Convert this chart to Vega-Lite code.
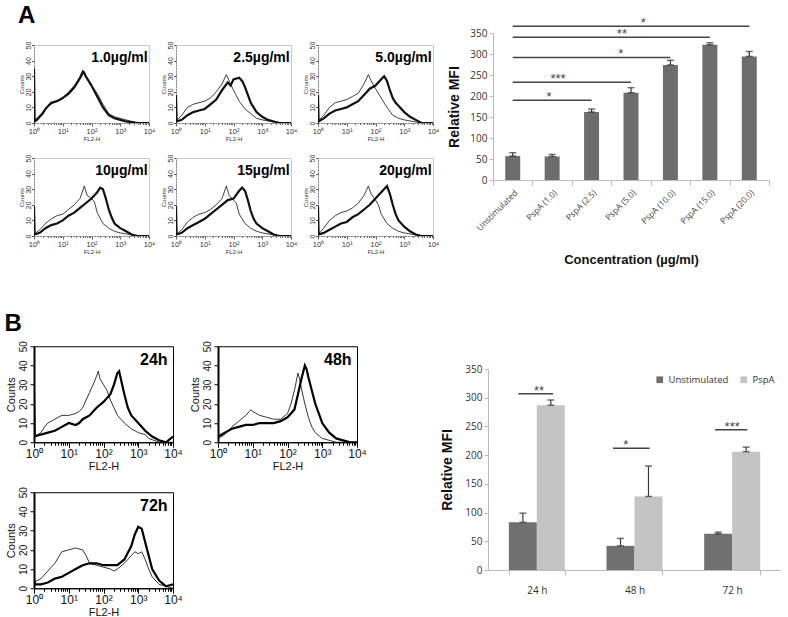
{
"$schema": "https://vega.github.io/schema/vega-lite/v6.json",
"background": "white",
"padding": {"left": 4, "top": 4, "right": 0, "bottom": 0},
"config": {"view": {"stroke": null}, "font": "Liberation Sans", "axis": {"labelOverlap": false}, "title": {"fontSize": 24, "fontWeight": "bold", "anchor": "start", "frame": "bounds", "color": "#000"}, "headerFacet": {"labels": false, "title": null, "labelFontSize": 0.1, "labelPadding": 0}},
"datasets": {
"histA": [
{"p":"1.0µg/ml","s":"thick","x":1,"y":35},{"p":"1.0µg/ml","s":"thick","x":1.05,"y":1},{"p":"1.0µg/ml","s":"thick","x":1.26,"y":2},{"p":"1.0µg/ml","s":"thick","x":1.58,"y":4},{"p":"1.0µg/ml","s":"thick","x":2,"y":6},{"p":"1.0µg/ml","s":"thick","x":2.51,"y":9},{"p":"1.0µg/ml","s":"thick","x":3.16,"y":11},{"p":"1.0µg/ml","s":"thick","x":3.98,"y":13},{"p":"1.0µg/ml","s":"thick","x":6.31,"y":14},{"p":"1.0µg/ml","s":"thick","x":10,"y":16},{"p":"1.0µg/ml","s":"thick","x":15.8,"y":19},{"p":"1.0µg/ml","s":"thick","x":25.1,"y":23},{"p":"1.0µg/ml","s":"thick","x":39.8,"y":29},{"p":"1.0µg/ml","s":"thick","x":50.1,"y":33},{"p":"1.0µg/ml","s":"thick","x":56.2,"y":32},{"p":"1.0µg/ml","s":"thick","x":63.1,"y":30},{"p":"1.0µg/ml","s":"thick","x":79.4,"y":27},{"p":"1.0µg/ml","s":"thick","x":100,"y":24},{"p":"1.0µg/ml","s":"thick","x":158,"y":17},{"p":"1.0µg/ml","s":"thick","x":251,"y":10},{"p":"1.0µg/ml","s":"thick","x":398,"y":5},{"p":"1.0µg/ml","s":"thick","x":631,"y":3},{"p":"1.0µg/ml","s":"thick","x":1000,"y":2},{"p":"1.0µg/ml","s":"thick","x":1585,"y":1},{"p":"1.0µg/ml","s":"thick","x":3981,"y":0},{"p":"1.0µg/ml","s":"thick","x":10000,"y":0},
{"p":"1.0µg/ml","s":"thin","x":1,"y":2},{"p":"1.0µg/ml","s":"thin","x":1.26,"y":3},{"p":"1.0µg/ml","s":"thin","x":1.58,"y":5},{"p":"1.0µg/ml","s":"thin","x":2,"y":7},{"p":"1.0µg/ml","s":"thin","x":2.51,"y":9},{"p":"1.0µg/ml","s":"thin","x":3.16,"y":11},{"p":"1.0µg/ml","s":"thin","x":3.98,"y":12},{"p":"1.0µg/ml","s":"thin","x":6.31,"y":14},{"p":"1.0µg/ml","s":"thin","x":10,"y":16},{"p":"1.0µg/ml","s":"thin","x":15.8,"y":18},{"p":"1.0µg/ml","s":"thin","x":25.1,"y":22},{"p":"1.0µg/ml","s":"thin","x":39.8,"y":28},{"p":"1.0µg/ml","s":"thin","x":50.1,"y":31},{"p":"1.0µg/ml","s":"thin","x":56.2,"y":33},{"p":"1.0µg/ml","s":"thin","x":63.1,"y":29},{"p":"1.0µg/ml","s":"thin","x":79.4,"y":27},{"p":"1.0µg/ml","s":"thin","x":100,"y":24},{"p":"1.0µg/ml","s":"thin","x":158,"y":19},{"p":"1.0µg/ml","s":"thin","x":251,"y":12},{"p":"1.0µg/ml","s":"thin","x":398,"y":6},{"p":"1.0µg/ml","s":"thin","x":631,"y":4},{"p":"1.0µg/ml","s":"thin","x":1000,"y":3},{"p":"1.0µg/ml","s":"thin","x":1585,"y":2},{"p":"1.0µg/ml","s":"thin","x":2512,"y":1},{"p":"1.0µg/ml","s":"thin","x":3981,"y":0},{"p":"1.0µg/ml","s":"thin","x":10000,"y":0},
{"p":"2.5µg/ml","s":"thin","x":1,"y":1},{"p":"2.5µg/ml","s":"thin","x":1.58,"y":5},{"p":"2.5µg/ml","s":"thin","x":2.51,"y":10},{"p":"2.5µg/ml","s":"thin","x":3.98,"y":12},{"p":"2.5µg/ml","s":"thin","x":6.31,"y":13},{"p":"2.5µg/ml","s":"thin","x":10,"y":14},{"p":"2.5µg/ml","s":"thin","x":15.8,"y":16},{"p":"2.5µg/ml","s":"thin","x":25.1,"y":20},{"p":"2.5µg/ml","s":"thin","x":39.8,"y":25},{"p":"2.5µg/ml","s":"thin","x":56.2,"y":31},{"p":"2.5µg/ml","s":"thin","x":70.8,"y":27},{"p":"2.5µg/ml","s":"thin","x":100,"y":21},{"p":"2.5µg/ml","s":"thin","x":158,"y":14},{"p":"2.5µg/ml","s":"thin","x":251,"y":9},{"p":"2.5µg/ml","s":"thin","x":398,"y":6},{"p":"2.5µg/ml","s":"thin","x":631,"y":3},{"p":"2.5µg/ml","s":"thin","x":1000,"y":2},{"p":"2.5µg/ml","s":"thin","x":1995,"y":1},{"p":"2.5µg/ml","s":"thin","x":3981,"y":0},{"p":"2.5µg/ml","s":"thin","x":10000,"y":0},
{"p":"2.5µg/ml","s":"thick","x":1,"y":18},{"p":"2.5µg/ml","s":"thick","x":1.05,"y":1},{"p":"2.5µg/ml","s":"thick","x":1.58,"y":2},{"p":"2.5µg/ml","s":"thick","x":2.51,"y":5},{"p":"2.5µg/ml","s":"thick","x":3.98,"y":7},{"p":"2.5µg/ml","s":"thick","x":6.31,"y":8},{"p":"2.5µg/ml","s":"thick","x":10,"y":9},{"p":"2.5µg/ml","s":"thick","x":15.8,"y":12},{"p":"2.5µg/ml","s":"thick","x":25.1,"y":15},{"p":"2.5µg/ml","s":"thick","x":39.8,"y":21},{"p":"2.5µg/ml","s":"thick","x":63.1,"y":26},{"p":"2.5µg/ml","s":"thick","x":79.4,"y":24},{"p":"2.5µg/ml","s":"thick","x":100,"y":28},{"p":"2.5µg/ml","s":"thick","x":158,"y":29},{"p":"2.5µg/ml","s":"thick","x":200,"y":27},{"p":"2.5µg/ml","s":"thick","x":251,"y":23},{"p":"2.5µg/ml","s":"thick","x":316,"y":18},{"p":"2.5µg/ml","s":"thick","x":398,"y":13},{"p":"2.5µg/ml","s":"thick","x":501,"y":10},{"p":"2.5µg/ml","s":"thick","x":631,"y":7},{"p":"2.5µg/ml","s":"thick","x":1000,"y":4},{"p":"2.5µg/ml","s":"thick","x":1585,"y":2},{"p":"2.5µg/ml","s":"thick","x":2512,"y":1},{"p":"2.5µg/ml","s":"thick","x":3981,"y":0},{"p":"2.5µg/ml","s":"thick","x":10000,"y":0},
{"p":"5.0µg/ml","s":"thin","x":1,"y":1},{"p":"5.0µg/ml","s":"thin","x":1.58,"y":5},{"p":"5.0µg/ml","s":"thin","x":2.51,"y":10},{"p":"5.0µg/ml","s":"thin","x":3.98,"y":13},{"p":"5.0µg/ml","s":"thin","x":6.31,"y":14},{"p":"5.0µg/ml","s":"thin","x":10,"y":15},{"p":"5.0µg/ml","s":"thin","x":15.8,"y":17},{"p":"5.0µg/ml","s":"thin","x":25.1,"y":19},{"p":"5.0µg/ml","s":"thin","x":39.8,"y":25},{"p":"5.0µg/ml","s":"thin","x":56.2,"y":31},{"p":"5.0µg/ml","s":"thin","x":70.8,"y":27},{"p":"5.0µg/ml","s":"thin","x":100,"y":22},{"p":"5.0µg/ml","s":"thin","x":158,"y":16},{"p":"5.0µg/ml","s":"thin","x":251,"y":10},{"p":"5.0µg/ml","s":"thin","x":398,"y":5},{"p":"5.0µg/ml","s":"thin","x":631,"y":3},{"p":"5.0µg/ml","s":"thin","x":1000,"y":2},{"p":"5.0µg/ml","s":"thin","x":1995,"y":1},{"p":"5.0µg/ml","s":"thin","x":3981,"y":0},{"p":"5.0µg/ml","s":"thin","x":10000,"y":0},
{"p":"5.0µg/ml","s":"thick","x":1,"y":18},{"p":"5.0µg/ml","s":"thick","x":1.05,"y":1},{"p":"5.0µg/ml","s":"thick","x":1.58,"y":3},{"p":"5.0µg/ml","s":"thick","x":2.51,"y":6},{"p":"5.0µg/ml","s":"thick","x":3.98,"y":8},{"p":"5.0µg/ml","s":"thick","x":6.31,"y":9},{"p":"5.0µg/ml","s":"thick","x":10,"y":10},{"p":"5.0µg/ml","s":"thick","x":15.8,"y":12},{"p":"5.0µg/ml","s":"thick","x":25.1,"y":14},{"p":"5.0µg/ml","s":"thick","x":39.8,"y":18},{"p":"5.0µg/ml","s":"thick","x":63.1,"y":22},{"p":"5.0µg/ml","s":"thick","x":100,"y":24},{"p":"5.0µg/ml","s":"thick","x":158,"y":28},{"p":"5.0µg/ml","s":"thick","x":200,"y":30},{"p":"5.0µg/ml","s":"thick","x":251,"y":27},{"p":"5.0µg/ml","s":"thick","x":316,"y":21},{"p":"5.0µg/ml","s":"thick","x":398,"y":16},{"p":"5.0µg/ml","s":"thick","x":501,"y":13},{"p":"5.0µg/ml","s":"thick","x":631,"y":11},{"p":"5.0µg/ml","s":"thick","x":1000,"y":7},{"p":"5.0µg/ml","s":"thick","x":1585,"y":4},{"p":"5.0µg/ml","s":"thick","x":2512,"y":2},{"p":"5.0µg/ml","s":"thick","x":3981,"y":0},{"p":"5.0µg/ml","s":"thick","x":10000,"y":0},
{"p":"10µg/ml","s":"thin","x":1,"y":1},{"p":"10µg/ml","s":"thin","x":1.58,"y":4},{"p":"10µg/ml","s":"thin","x":2.51,"y":8},{"p":"10µg/ml","s":"thin","x":3.98,"y":11},{"p":"10µg/ml","s":"thin","x":6.31,"y":13},{"p":"10µg/ml","s":"thin","x":10,"y":14},{"p":"10µg/ml","s":"thin","x":15.8,"y":17},{"p":"10µg/ml","s":"thin","x":25.1,"y":20},{"p":"10µg/ml","s":"thin","x":39.8,"y":24},{"p":"10µg/ml","s":"thin","x":56.2,"y":32},{"p":"10µg/ml","s":"thin","x":70.8,"y":26},{"p":"10µg/ml","s":"thin","x":100,"y":24},{"p":"10µg/ml","s":"thin","x":126,"y":22},{"p":"10µg/ml","s":"thin","x":158,"y":15},{"p":"10µg/ml","s":"thin","x":251,"y":8},{"p":"10µg/ml","s":"thin","x":398,"y":5},{"p":"10µg/ml","s":"thin","x":631,"y":3},{"p":"10µg/ml","s":"thin","x":1000,"y":2},{"p":"10µg/ml","s":"thin","x":1995,"y":1},{"p":"10µg/ml","s":"thin","x":3981,"y":0},{"p":"10µg/ml","s":"thin","x":10000,"y":0},
{"p":"10µg/ml","s":"thick","x":1,"y":19},{"p":"10µg/ml","s":"thick","x":1.05,"y":1},{"p":"10µg/ml","s":"thick","x":1.58,"y":2},{"p":"10µg/ml","s":"thick","x":2.51,"y":5},{"p":"10µg/ml","s":"thick","x":3.98,"y":7},{"p":"10µg/ml","s":"thick","x":6.31,"y":8},{"p":"10µg/ml","s":"thick","x":10,"y":10},{"p":"10µg/ml","s":"thick","x":15.8,"y":13},{"p":"10µg/ml","s":"thick","x":25.1,"y":15},{"p":"10µg/ml","s":"thick","x":39.8,"y":18},{"p":"10µg/ml","s":"thick","x":63.1,"y":21},{"p":"10µg/ml","s":"thick","x":100,"y":24},{"p":"10µg/ml","s":"thick","x":158,"y":28},{"p":"10µg/ml","s":"thick","x":200,"y":31},{"p":"10µg/ml","s":"thick","x":251,"y":30},{"p":"10µg/ml","s":"thick","x":316,"y":24},{"p":"10µg/ml","s":"thick","x":398,"y":17},{"p":"10µg/ml","s":"thick","x":501,"y":12},{"p":"10µg/ml","s":"thick","x":631,"y":8},{"p":"10µg/ml","s":"thick","x":1000,"y":5},{"p":"10µg/ml","s":"thick","x":1585,"y":3},{"p":"10µg/ml","s":"thick","x":2512,"y":1},{"p":"10µg/ml","s":"thick","x":3981,"y":0},{"p":"10µg/ml","s":"thick","x":10000,"y":0},
{"p":"15µg/ml","s":"thin","x":1,"y":1},{"p":"15µg/ml","s":"thin","x":1.58,"y":4},{"p":"15µg/ml","s":"thin","x":2.51,"y":9},{"p":"15µg/ml","s":"thin","x":3.98,"y":12},{"p":"15µg/ml","s":"thin","x":6.31,"y":14},{"p":"15µg/ml","s":"thin","x":10,"y":15},{"p":"15µg/ml","s":"thin","x":15.8,"y":17},{"p":"15µg/ml","s":"thin","x":25.1,"y":20},{"p":"15µg/ml","s":"thin","x":39.8,"y":24},{"p":"15µg/ml","s":"thin","x":56.2,"y":32},{"p":"15µg/ml","s":"thin","x":70.8,"y":26},{"p":"15µg/ml","s":"thin","x":100,"y":23},{"p":"15µg/ml","s":"thin","x":126,"y":21},{"p":"15µg/ml","s":"thin","x":158,"y":14},{"p":"15µg/ml","s":"thin","x":251,"y":8},{"p":"15µg/ml","s":"thin","x":398,"y":5},{"p":"15µg/ml","s":"thin","x":631,"y":3},{"p":"15µg/ml","s":"thin","x":1000,"y":2},{"p":"15µg/ml","s":"thin","x":1995,"y":1},{"p":"15µg/ml","s":"thin","x":3981,"y":0},{"p":"15µg/ml","s":"thin","x":10000,"y":0},
{"p":"15µg/ml","s":"thick","x":1,"y":19},{"p":"15µg/ml","s":"thick","x":1.05,"y":1},{"p":"15µg/ml","s":"thick","x":1.58,"y":2},{"p":"15µg/ml","s":"thick","x":2.51,"y":5},{"p":"15µg/ml","s":"thick","x":3.98,"y":7},{"p":"15µg/ml","s":"thick","x":6.31,"y":9},{"p":"15µg/ml","s":"thick","x":10,"y":11},{"p":"15µg/ml","s":"thick","x":15.8,"y":14},{"p":"15µg/ml","s":"thick","x":25.1,"y":17},{"p":"15µg/ml","s":"thick","x":39.8,"y":20},{"p":"15µg/ml","s":"thick","x":63.1,"y":23},{"p":"15µg/ml","s":"thick","x":100,"y":24},{"p":"15µg/ml","s":"thick","x":158,"y":29},{"p":"15µg/ml","s":"thick","x":200,"y":31},{"p":"15µg/ml","s":"thick","x":251,"y":29},{"p":"15µg/ml","s":"thick","x":316,"y":23},{"p":"15µg/ml","s":"thick","x":398,"y":16},{"p":"15µg/ml","s":"thick","x":501,"y":11},{"p":"15µg/ml","s":"thick","x":631,"y":8},{"p":"15µg/ml","s":"thick","x":1000,"y":5},{"p":"15µg/ml","s":"thick","x":1585,"y":3},{"p":"15µg/ml","s":"thick","x":2512,"y":1},{"p":"15µg/ml","s":"thick","x":3981,"y":0},{"p":"15µg/ml","s":"thick","x":10000,"y":0},
{"p":"20µg/ml","s":"thin","x":1,"y":1},{"p":"20µg/ml","s":"thin","x":1.58,"y":5},{"p":"20µg/ml","s":"thin","x":2.51,"y":10},{"p":"20µg/ml","s":"thin","x":3.98,"y":13},{"p":"20µg/ml","s":"thin","x":6.31,"y":15},{"p":"20µg/ml","s":"thin","x":10,"y":16},{"p":"20µg/ml","s":"thin","x":15.8,"y":18},{"p":"20µg/ml","s":"thin","x":25.1,"y":21},{"p":"20µg/ml","s":"thin","x":39.8,"y":26},{"p":"20µg/ml","s":"thin","x":56.2,"y":32},{"p":"20µg/ml","s":"thin","x":70.8,"y":27},{"p":"20µg/ml","s":"thin","x":100,"y":23},{"p":"20µg/ml","s":"thin","x":126,"y":20},{"p":"20µg/ml","s":"thin","x":158,"y":14},{"p":"20µg/ml","s":"thin","x":251,"y":8},{"p":"20µg/ml","s":"thin","x":398,"y":5},{"p":"20µg/ml","s":"thin","x":631,"y":3},{"p":"20µg/ml","s":"thin","x":1000,"y":2},{"p":"20µg/ml","s":"thin","x":1995,"y":1},{"p":"20µg/ml","s":"thin","x":3981,"y":0},{"p":"20µg/ml","s":"thin","x":10000,"y":0},
{"p":"20µg/ml","s":"thick","x":1,"y":19},{"p":"20µg/ml","s":"thick","x":1.05,"y":1},{"p":"20µg/ml","s":"thick","x":1.58,"y":2},{"p":"20µg/ml","s":"thick","x":2.51,"y":4},{"p":"20µg/ml","s":"thick","x":3.98,"y":6},{"p":"20µg/ml","s":"thick","x":6.31,"y":8},{"p":"20µg/ml","s":"thick","x":10,"y":9},{"p":"20µg/ml","s":"thick","x":15.8,"y":12},{"p":"20µg/ml","s":"thick","x":25.1,"y":14},{"p":"20µg/ml","s":"thick","x":39.8,"y":17},{"p":"20µg/ml","s":"thick","x":63.1,"y":20},{"p":"20µg/ml","s":"thick","x":100,"y":24},{"p":"20µg/ml","s":"thick","x":158,"y":28},{"p":"20µg/ml","s":"thick","x":251,"y":32},{"p":"20µg/ml","s":"thick","x":316,"y":27},{"p":"20µg/ml","s":"thick","x":398,"y":20},{"p":"20µg/ml","s":"thick","x":501,"y":14},{"p":"20µg/ml","s":"thick","x":631,"y":10},{"p":"20µg/ml","s":"thick","x":1000,"y":6},{"p":"20µg/ml","s":"thick","x":1585,"y":3},{"p":"20µg/ml","s":"thick","x":2512,"y":1},{"p":"20µg/ml","s":"thick","x":3981,"y":0},{"p":"20µg/ml","s":"thick","x":10000,"y":0}
],
"histB": [
{"p":"24h","s":"thin","x":1,"y":3},{"p":"24h","s":"thin","x":1.58,"y":5},{"p":"24h","s":"thin","x":2,"y":8},{"p":"24h","s":"thin","x":2.51,"y":10},{"p":"24h","s":"thin","x":3.98,"y":12},{"p":"24h","s":"thin","x":6.31,"y":14},{"p":"24h","s":"thin","x":10,"y":14},{"p":"24h","s":"thin","x":15.8,"y":15},{"p":"24h","s":"thin","x":20,"y":16},{"p":"24h","s":"thin","x":25.1,"y":18},{"p":"24h","s":"thin","x":39.8,"y":26},{"p":"24h","s":"thin","x":56.2,"y":32},{"p":"24h","s":"thin","x":70.8,"y":37},{"p":"24h","s":"thin","x":79.4,"y":33},{"p":"24h","s":"thin","x":100,"y":30},{"p":"24h","s":"thin","x":126,"y":27},{"p":"24h","s":"thin","x":158,"y":22},{"p":"24h","s":"thin","x":200,"y":18},{"p":"24h","s":"thin","x":251,"y":14},{"p":"24h","s":"thin","x":398,"y":10},{"p":"24h","s":"thin","x":631,"y":7},{"p":"24h","s":"thin","x":1000,"y":5},{"p":"24h","s":"thin","x":1585,"y":4},{"p":"24h","s":"thin","x":1995,"y":2},{"p":"24h","s":"thin","x":3981,"y":0},{"p":"24h","s":"thin","x":10000,"y":0},
{"p":"24h","s":"thick","x":1,"y":25},{"p":"24h","s":"thick","x":1.05,"y":3},{"p":"24h","s":"thick","x":1.58,"y":4},{"p":"24h","s":"thick","x":2.51,"y":5},{"p":"24h","s":"thick","x":3.98,"y":6},{"p":"24h","s":"thick","x":6.31,"y":8},{"p":"24h","s":"thick","x":10,"y":10},{"p":"24h","s":"thick","x":15.8,"y":9},{"p":"24h","s":"thick","x":20,"y":10},{"p":"24h","s":"thick","x":25.1,"y":12},{"p":"24h","s":"thick","x":39.8,"y":14},{"p":"24h","s":"thick","x":63.1,"y":18},{"p":"24h","s":"thick","x":100,"y":21},{"p":"24h","s":"thick","x":158,"y":25},{"p":"24h","s":"thick","x":200,"y":30},{"p":"24h","s":"thick","x":251,"y":36},{"p":"24h","s":"thick","x":282,"y":37},{"p":"24h","s":"thick","x":316,"y":33},{"p":"24h","s":"thick","x":398,"y":25},{"p":"24h","s":"thick","x":501,"y":18},{"p":"24h","s":"thick","x":631,"y":14},{"p":"24h","s":"thick","x":1000,"y":10},{"p":"24h","s":"thick","x":1585,"y":6},{"p":"24h","s":"thick","x":2512,"y":3},{"p":"24h","s":"thick","x":3981,"y":1},{"p":"24h","s":"thick","x":6310,"y":0},{"p":"24h","s":"thick","x":10000,"y":3},
{"p":"48h","s":"thin","x":1,"y":2},{"p":"48h","s":"thin","x":1.58,"y":4},{"p":"48h","s":"thin","x":2.51,"y":8},{"p":"48h","s":"thin","x":3.98,"y":11},{"p":"48h","s":"thin","x":6.31,"y":14},{"p":"48h","s":"thin","x":8.9,"y":17},{"p":"48h","s":"thin","x":10,"y":16},{"p":"48h","s":"thin","x":15.8,"y":14},{"p":"48h","s":"thin","x":25.1,"y":13},{"p":"48h","s":"thin","x":39.8,"y":12},{"p":"48h","s":"thin","x":63.1,"y":12},{"p":"48h","s":"thin","x":100,"y":15},{"p":"48h","s":"thin","x":126,"y":20},{"p":"48h","s":"thin","x":158,"y":27},{"p":"48h","s":"thin","x":200,"y":36},{"p":"48h","s":"thin","x":224,"y":33},{"p":"48h","s":"thin","x":251,"y":28},{"p":"48h","s":"thin","x":316,"y":20},{"p":"48h","s":"thin","x":398,"y":13},{"p":"48h","s":"thin","x":501,"y":8},{"p":"48h","s":"thin","x":631,"y":5},{"p":"48h","s":"thin","x":1000,"y":2},{"p":"48h","s":"thin","x":1585,"y":1},{"p":"48h","s":"thin","x":2512,"y":0},{"p":"48h","s":"thin","x":10000,"y":0},
{"p":"48h","s":"thick","x":1,"y":3},{"p":"48h","s":"thick","x":1.58,"y":5},{"p":"48h","s":"thick","x":2.51,"y":7},{"p":"48h","s":"thick","x":3.98,"y":8},{"p":"48h","s":"thick","x":6.31,"y":9},{"p":"48h","s":"thick","x":10,"y":9},{"p":"48h","s":"thick","x":15.8,"y":10},{"p":"48h","s":"thick","x":25.1,"y":10},{"p":"48h","s":"thick","x":39.8,"y":10},{"p":"48h","s":"thick","x":63.1,"y":11},{"p":"48h","s":"thick","x":100,"y":13},{"p":"48h","s":"thick","x":158,"y":17},{"p":"48h","s":"thick","x":200,"y":25},{"p":"48h","s":"thick","x":251,"y":33},{"p":"48h","s":"thick","x":316,"y":40},{"p":"48h","s":"thick","x":355,"y":38},{"p":"48h","s":"thick","x":398,"y":34},{"p":"48h","s":"thick","x":501,"y":27},{"p":"48h","s":"thick","x":631,"y":20},{"p":"48h","s":"thick","x":794,"y":15},{"p":"48h","s":"thick","x":1000,"y":10},{"p":"48h","s":"thick","x":1585,"y":5},{"p":"48h","s":"thick","x":2512,"y":2},{"p":"48h","s":"thick","x":3981,"y":1},{"p":"48h","s":"thick","x":6310,"y":0},{"p":"48h","s":"thick","x":10000,"y":0},
{"p":"72h","s":"thin","x":1,"y":3},{"p":"72h","s":"thin","x":1.58,"y":5},{"p":"72h","s":"thin","x":2.51,"y":9},{"p":"72h","s":"thin","x":3.98,"y":13},{"p":"72h","s":"thin","x":6.31,"y":19},{"p":"72h","s":"thin","x":10,"y":20},{"p":"72h","s":"thin","x":15.8,"y":21},{"p":"72h","s":"thin","x":25.1,"y":20},{"p":"72h","s":"thin","x":31.6,"y":17},{"p":"72h","s":"thin","x":39.8,"y":13},{"p":"72h","s":"thin","x":63.1,"y":12},{"p":"72h","s":"thin","x":100,"y":11},{"p":"72h","s":"thin","x":158,"y":10},{"p":"72h","s":"thin","x":200,"y":9},{"p":"72h","s":"thin","x":251,"y":10},{"p":"72h","s":"thin","x":398,"y":13},{"p":"72h","s":"thin","x":631,"y":17},{"p":"72h","s":"thin","x":794,"y":19},{"p":"72h","s":"thin","x":1000,"y":18},{"p":"72h","s":"thin","x":1259,"y":19},{"p":"72h","s":"thin","x":1585,"y":15},{"p":"72h","s":"thin","x":1995,"y":10},{"p":"72h","s":"thin","x":2512,"y":6},{"p":"72h","s":"thin","x":3981,"y":2},{"p":"72h","s":"thin","x":6310,"y":1},{"p":"72h","s":"thin","x":10000,"y":0},
{"p":"72h","s":"thick","x":1,"y":5},{"p":"72h","s":"thick","x":1.05,"y":2},{"p":"72h","s":"thick","x":1.58,"y":2},{"p":"72h","s":"thick","x":2.51,"y":3},{"p":"72h","s":"thick","x":3.98,"y":5},{"p":"72h","s":"thick","x":6.31,"y":6},{"p":"72h","s":"thick","x":10,"y":8},{"p":"72h","s":"thick","x":15.8,"y":10},{"p":"72h","s":"thick","x":25.1,"y":12},{"p":"72h","s":"thick","x":39.8,"y":13},{"p":"72h","s":"thick","x":63.1,"y":13},{"p":"72h","s":"thick","x":100,"y":12},{"p":"72h","s":"thick","x":158,"y":12},{"p":"72h","s":"thick","x":251,"y":12},{"p":"72h","s":"thick","x":398,"y":15},{"p":"72h","s":"thick","x":631,"y":22},{"p":"72h","s":"thick","x":794,"y":28},{"p":"72h","s":"thick","x":1000,"y":32},{"p":"72h","s":"thick","x":1259,"y":31},{"p":"72h","s":"thick","x":1585,"y":24},{"p":"72h","s":"thick","x":1995,"y":17},{"p":"72h","s":"thick","x":2512,"y":10},{"p":"72h","s":"thick","x":3981,"y":4},{"p":"72h","s":"thick","x":6310,"y":1},{"p":"72h","s":"thick","x":10000,"y":2}
],
"barA": [
{"c":"Unstimulated","v":57,"hi":65},{"c":"PspA (1.0)","v":56,"hi":61},{"c":"PspA (2.5)","v":162,"hi":169},{"c":"PspA (5.0)","v":208,"hi":220},{"c":"PspA (10.0)","v":274,"hi":285},{"c":"PspA (15.0)","v":322,"hi":327},{"c":"PspA (20.0)","v":294,"hi":306}
],
"sigA": [
{"x1":0.5,"x2":6.5,"v":366,"xs":3.81,"lab":"*"},{"x1":0.5,"x2":5.5,"v":340,"xs":3.27,"lab":"**"},{"x1":0.5,"x2":4.5,"v":292,"xs":3.24,"lab":"*"},{"x1":0.5,"x2":3.5,"v":233,"xs":1.65,"lab":"***"},{"x1":0.5,"x2":2.5,"v":190,"xs":1.42,"lab":"*"}
],
"barB": [
{"t":"24 h","g":"Unstimulated","v":83,"hi":99},{"t":"24 h","g":"PspA","v":287,"hi":296},{"t":"48 h","g":"Unstimulated","v":42,"hi":55},{"t":"48 h","g":"PspA","v":128,"hi":181},{"t":"72 h","g":"Unstimulated","v":63,"hi":66},{"t":"72 h","g":"PspA","v":206,"hi":214}
],
"sigB": [
{"x1":0.311,"x2":0.666,"v":307,"xs":0.522,"lab":"**"},{"x1":1.28,"x2":1.655,"v":212,"xs":1.41,"lab":"*"},{"x1":2.324,"x2":2.655,"v":244,"xs":2.5,"lab":"***"}
]
},
"spacing": 45,
"resolve": {"legend": {"color": "independent", "strokeWidth": "independent"}},
"vconcat": [
{
"title": {"text": "A", "offset": -11},
"spacing": 7,
"center": true,
"hconcat": [
{
"data": {"name": "histA"},
"facet": {"field": "p", "type": "nominal", "sort": ["1.0µg/ml","2.5µg/ml","5.0µg/ml","10µg/ml","15µg/ml","20µg/ml"], "header": {"labels": false, "title": null, "labelFontSize": 0.1, "labelPadding": 0, "labelExpr": "''"}},
"columns": 3,
"spacing": {"column": 4, "row": 11},
"resolve": {"axis": {"x": "independent", "y": "independent"}},
"spec": {
"width": 115, "height": 78,
"view": {"stroke": "#c8c8c8"},
"encoding": {
"x": {"field": "x", "type": "quantitative", "scale": {"type": "log", "domain": [1, 10000]},
"axis": {"title": "FL2-H", "titleFontSize": 6, "titlePadding": 1, "titleColor": "#333", "titleFontWeight": "normal",
"values": [1,2,3,4,5,6,7,8,9,10,20,30,40,50,60,70,80,90,100,200,300,400,500,600,700,800,900,1000,2000,3000,4000,5000,6000,7000,8000,9000,10000], "tickCount": 100,
"labelExpr": "indexof([1,10,100,1000,10000], datum.value) >= 0 ? '10' + ['⁰','¹','²','³','⁴'][indexof([1,10,100,1000,10000], datum.value)] : ''",
"labelFontSize": 7.5, "labelColor": "#333", "labelPadding": 1, "labelOverlap": false, "labelFlush": false, "labelBound": false,
"tickSize": {"condition": {"test": "indexof([1,10,100,1000,10000], datum.value) >= 0", "value": 3}, "value": 1.5},
"tickColor": "#666", "domain": true, "domainDash": [1, 2], "domainColor": "#555", "grid": false}},
"y": {"field": "y", "type": "quantitative", "scale": {"domain": [0, 50]},
"axis": {"title": "Counts", "titleFontSize": 6, "titlePadding": 0, "titleColor": "#333", "titleFontWeight": "normal",
"values": [0,10,20,30,40,50], "tickCount": 100, "format": "d", "labelAngle": -90, "labelAlign": "center", "labelBaseline": "bottom",
"labelFontSize": 7, "labelColor": "#333", "labelPadding": 0, "labelOverlap": false, "tickSize": 2.5,
"tickColor": "#555", "domain": true, "domainDash": [1, 2], "domainColor": "#555", "grid": false}}
},
"layer": [
{"mark": {"type": "line", "clip": true, "color": "#111"},
"encoding": {
"detail": {"field": "s"},
"strokeWidth": {"field": "s", "type": "nominal", "scale": {"domain": ["thin","thick"], "range": [0.8, 2.2]}, "legend": null}
}},
{"transform": [{"filter": "datum.s == 'thin' && datum.x == 10000"}],
"mark": {"type": "text", "align": "right", "baseline": "top", "fontSize": 14, "fontWeight": "bold", "color": "#000"},
"encoding": {"x": {"datum": 9000, "type": "quantitative"}, "y": {"datum": 46, "type": "quantitative"}, "text": {"field": "p"}}}
]
}
},
{
"width": 276, "height": 147,
"encoding": {
"y": {"field": "v", "type": "quantitative", "scale": {"domain": [0, 350]}, "title": "Relative MFI",
"axis": {"values": [0,50,100,150,200,250,300,350], "tickCount": 100, "format": "d", "titleFontSize": 14, "titleFontWeight": "bold", "titleColor": "#111", "titlePadding": 8,
"labelFontSize": 10, "labelFont": "Open Sans", "labelColor": "#333", "labelOverlap": false, "tickSize": 4, "tickColor": "#bbb", "domainColor": "#bbb", "grid": false}}
},
"layer": [
{"data": {"name": "barA"},
"encoding": {
"x": {"field": "c", "type": "nominal", "sort": null, "scale": {"paddingInner": 0, "paddingOuter": 0},
"axis": {"title": "Concentration (µg/ml)", "titleFontSize": 13, "titleFontWeight": "bold", "titleColor": "#111", "titlePadding": 22,
"labelAngle": -45, "labelFontSize": 8.5, "labelFont": "Open Sans", "labelColor": "#444", "labelPadding": 3,
"tickBand": "extent", "tickSize": 5, "tickColor": "#bbb", "domainColor": "#bbb"}}
},
"layer": [
{"mark": {"type": "bar", "color": "#6d6d6d", "width": {"band": 0.38}}},
{"mark": {"type": "errorbar", "ticks": {"color": "#333", "thickness": 1.5, "size": 7}, "rule": {"color": "#333", "strokeWidth": 1.2}},
"encoding": {"y2": {"field": "hi"}}}
]},
{"data": {"name": "sigA"},
"encoding": {"x": {"field": "x1", "type": "quantitative", "scale": {"domain": [0, 7], "nice": false, "zero": false}, "axis": null}},
"layer": [
{"mark": {"type": "rule", "color": "#444", "strokeWidth": 1.5},
"encoding": {"x2": {"field": "x2"}}},
{"mark": {"type": "text", "fontSize": 13, "color": "#444", "baseline": "alphabetic", "dy": 1},
"encoding": {"x": {"field": "xs", "type": "quantitative"}, "text": {"field": "lab"}}}
]}
],
"resolve": {"scale": {"x": "independent"}}
}
]
},
{
"title": {"text": "B"},
"spacing": 73,
"center": true,
"resolve": {"legend": {"color": "independent"}},
"hconcat": [
{
"data": {"name": "histB"},
"facet": {"field": "p", "type": "nominal", "sort": ["24h","48h","72h"], "header": {"labels": false, "title": null, "labelFontSize": 0.1, "labelPadding": 0, "labelExpr": "''"}},
"columns": 2,
"spacing": {"column": 5, "row": 13},
"resolve": {"axis": {"x": "independent", "y": "independent"}},
"spec": {
"width": 139, "height": 96,
"view": {"stroke": "#000", "strokeWidth": 1},
"encoding": {
"x": {"field": "x", "type": "quantitative", "scale": {"type": "log", "domain": [1, 10000]},
"axis": {"title": "FL2-H", "titleFontSize": 11, "titlePadding": 1, "titleColor": "#111", "titleFontWeight": "normal",
"values": [1,2,3,4,5,6,7,8,9,10,20,30,40,50,60,70,80,90,100,200,300,400,500,600,700,800,900,1000,2000,3000,4000,5000,6000,7000,8000,9000,10000], "tickCount": 100,
"labelExpr": "indexof([1,10,100,1000,10000], datum.value) >= 0 ? '10' + ['⁰','¹','²','³','⁴'][indexof([1,10,100,1000,10000], datum.value)] : ''",
"labelFontSize": 12, "labelColor": "#111", "labelPadding": 1, "labelOverlap": false, "labelFlush": false, "labelBound": false,
"tickSize": {"condition": {"test": "indexof([1,10,100,1000,10000], datum.value) >= 0", "value": 5}, "value": 3},
"tickColor": "#000", "domainColor": "#000", "domainWidth": 1.2, "grid": false}},
"y": {"field": "y", "type": "quantitative", "scale": {"domain": [0, 50]},
"axis": {"title": "Counts", "titleFontSize": 11, "titlePadding": 2, "titleColor": "#111", "titleFontWeight": "normal",
"values": [0,10,20,30,40,50], "tickCount": 100, "format": "d", "labelAngle": -90, "labelAlign": "center", "labelBaseline": "bottom",
"labelFontSize": 10, "labelColor": "#111", "labelPadding": 2, "labelOverlap": false, "tickSize": 4,
"tickColor": "#000", "domainColor": "#000", "domainWidth": 2, "grid": false}}
},
"layer": [
{"mark": {"type": "line", "clip": true, "color": "#000"},
"encoding": {
"detail": {"field": "s"},
"strokeWidth": {"field": "s", "type": "nominal", "scale": {"domain": ["thin","thick"], "range": [0.9, 2.5]}, "legend": null}
}},
{"transform": [{"filter": "datum.s == 'thin' && datum.x == 10000"}],
"mark": {"type": "text", "align": "right", "baseline": "top", "fontSize": 16, "fontWeight": "bold", "color": "#000"},
"encoding": {"x": {"datum": 7000, "type": "quantitative"}, "y": {"datum": 47, "type": "quantitative"}, "text": {"field": "p"}}}
]
}
},
{
"width": 293, "height": 201,
"encoding": {
"y": {"field": "v", "type": "quantitative", "scale": {"domain": [0, 350]}, "title": "Relative MFI",
"axis": {"values": [0,50,100,150,200,250,300,350], "tickCount": 100, "format": "d", "titleFontSize": 14, "titleFontWeight": "bold", "titleColor": "#111", "titlePadding": 10,
"labelFontSize": 10, "labelFont": "Open Sans", "labelColor": "#333", "labelOverlap": false, "tickSize": 4, "tickColor": "#bbb", "domainColor": "#bbb", "grid": false}}
},
"layer": [
{"data": {"name": "barB"},
"encoding": {
"x": {"field": "t", "type": "nominal", "sort": ["24 h","48 h","72 h"], "scale": {"paddingInner": 0.427, "paddingOuter": 0.2135},
"axis": {"title": null, "labelAngle": 0, "labelFontSize": 10, "labelFont": "Open Sans", "labelColor": "#333", "labelPadding": 10,
"tickBand": "extent", "tickSize": 5, "tickColor": "#bbb", "domainColor": "#bbb"}},
"xOffset": {"field": "g", "type": "nominal", "sort": ["Unstimulated","PspA"], "scale": {"paddingInner": 0, "paddingOuter": 0}}
},
"layer": [
{"mark": {"type": "bar"},
"encoding": {
"color": {"field": "g", "type": "nominal", "scale": {"domain": ["Unstimulated","PspA"], "range": ["#707070","#c4c4c4"]},
"legend": {"title": null, "orient": "top-right", "direction": "horizontal", "gridAlign": "none", "symbolType": "square", "symbolSize": 45, "labelFontSize": 9.5, "labelFont": "Open Sans", "labelColor": "#333", "columnPadding": 10, "offset": 6}}
}},
{"mark": {"type": "errorbar", "ticks": {"color": "#3a3a3a", "thickness": 1.5, "size": 7}, "rule": {"color": "#3a3a3a", "strokeWidth": 1.2}},
"encoding": {"y2": {"field": "hi"}}}
]},
{"data": {"name": "sigB"},
"encoding": {"x": {"field": "x1", "type": "quantitative", "scale": {"domain": [0, 3], "nice": false, "zero": false}, "axis": null}},
"layer": [
{"mark": {"type": "rule", "color": "#444", "strokeWidth": 1.5},
"encoding": {"x2": {"field": "x2"}}},
{"mark": {"type": "text", "fontSize": 13, "color": "#444", "baseline": "alphabetic", "dy": 1},
"encoding": {"x": {"field": "xs", "type": "quantitative"}, "text": {"field": "lab"}}}
]}
],
"resolve": {"scale": {"x": "independent"}}
}
]
}
]
}
